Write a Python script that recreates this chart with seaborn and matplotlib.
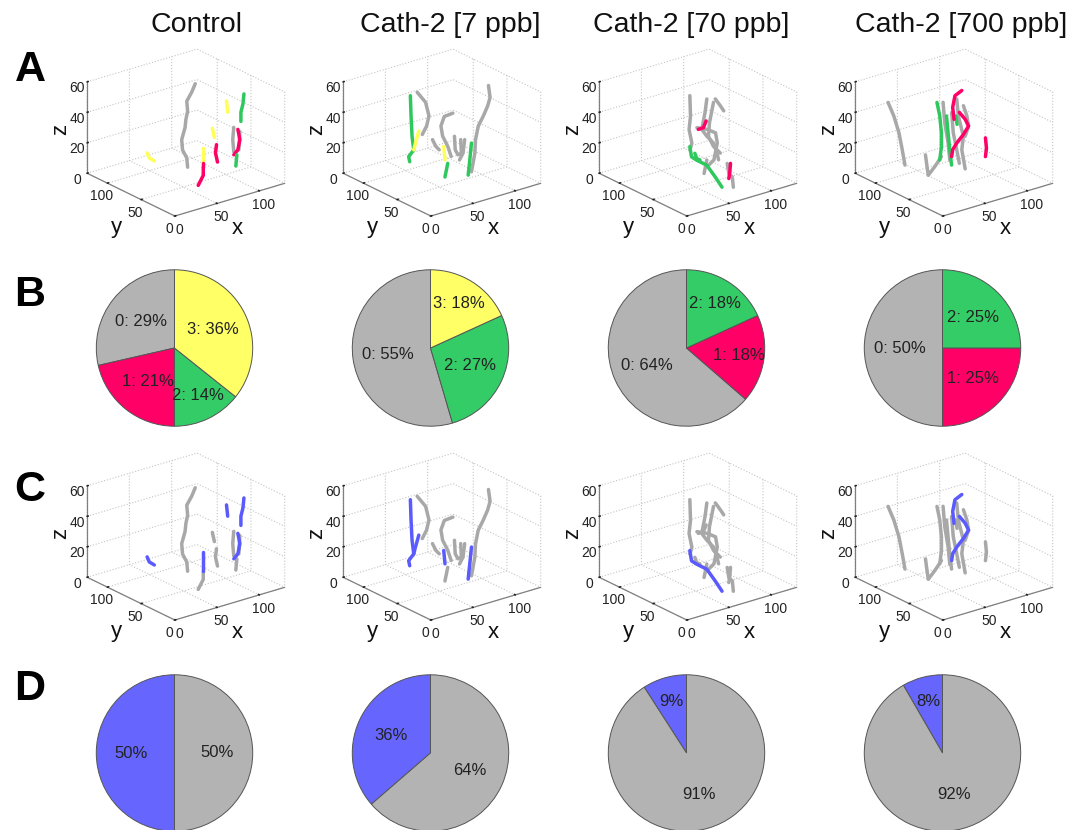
import numpy as np
import matplotlib
matplotlib.use('Agg')
import matplotlib.pyplot as plt
import seaborn as sns

sns.set_theme(style='white')
plt.rcParams['font.family'] = ['Liberation Sans', 'DejaVu Sans']

conditions = ['Control', 'Cath-2 [7 ppb]', 'Cath-2 [70 ppb]', 'Cath-2 [700 ppb]']
title_x = [196, 450, 691, 961]

# state colours: 0 grey, 1 red, 2 green, 3 yellow, 'b' blue
colors = {0: '#b3b3b3', 1: '#ff0066', 2: '#33cc66', 3: '#ffff66', 'b': '#6666ff'}
track_colors = {0: '#a8a8a8', 1: '#ff0066', 2: '#2ec85e', 3: '#ffff55', 'b': '#5a5aff'}

# B pies: number of tracks per state
pie_b_states = [[0, 1, 2, 3], [0, 2, 3], [0, 1, 2], [0, 1, 2]]
pie_b_counts = [[4, 3, 2, 5], [6, 3, 2], [7, 2, 2], [6, 3, 3]]
# D pies: blue / grey tracks
pie_d_counts = [[7, 7], [4, 7], [1, 10], [1, 11]]

# tracks: (state in A, class in C, y, x-list, z-list)
tracks_control = [
    (0, 0, 70, [80, 76, 70, 71, 69, 68, 64, 65, 70, 71], [58.5, 53.8, 48.7, 41.9, 37, 31.8, 24.4, 17.5, 11.4, 5.2]),
    (0, 0, 60, [117.6, 116.4, 117.6], [25.8, 18, 9.8]),
    (0, 0, 60, [124.8, 123.6], [21.9, 10.1]),
    (3, 'b', 110, [55, 57.5, 63.5], [8.6, 4.9, 1.9]),
    (3, 'b', 70, [117, 118.4], [41.1, 33.5]),
    (2, 'b', 40, [113.7, 112.5, 110.1, 110.1], [52.7, 46.3, 41.3, 35.3]),
    (3, 0, 60, [92.3, 94.7], [29.3, 22.9]),
    (3, 'b', 30, [57.6, 57.6], [28.7, 18.7]),
    (1, 'b', 30, [57.6, 57.6], [18.7, 16]),
    (1, 0, 30, [57.6, 57.6, 51.6], [16, 10.7, 5.1]),
    (1, 0, 50, [89.2, 88, 90.4], [21.3, 16.1, 9.7]),
    (1, 'b', 45, [110.5, 112.9, 110.5, 105.7], [28.9, 21.8, 15.5, 13]),
    (2, 0, 40, [105.3, 104.1], [14.1, 7]),
]
tracks_7ppb = [
    (0, 0, 100, [63.7, 73.6, 77.6, 74.8, 69.7], [49.1, 40.9, 31.3, 25.1, 20.4]),
    (0, 0, 80, [89.9, 79.8, 75.8, 77.8, 83.9, 87.9], [35.4, 34.9, 29.3, 22.3, 14.6, 7.3]),
    (0, 0, 80, [65.8, 69.8, 73.8], [22, 16.9, 14]),
    (0, 0, 80, [91.8, 92.7, 95.9, 100, 99.2], [19.9, 10.9, 7.1, 7.5, 16.5]),
    (0, 0, 80, [103.9, 101.9, 97.8], [15.7, 7.2, 3.4]),
    (0, 0, 50, [108.1, 110, 107.2, 102, 96, 92.8, 92, 88], [57, 48.9, 43.8, 38, 32.3, 24, 15.3, 3.7]),
    (2, 'b', 100, [55.6, 56.4, 57.6, 59.6, 53.6, 54.8], [48.2, 34.7, 21.2, 12, 8.5, 5]),
    (3, 'b', 100, [65.6, 61.6, 59.6], [23.3, 16.1, 12]),
    (3, 'b', 80, [79.1, 80.6], [15.3, 6.3]),
    (2, 0, 60, [67.9, 64.6], [10.4, 2]),
    (2, 'b', 45, [84, 82, 80.1], [24.3, 13.5, 3.9]),
]
tracks_70ppb = [
    (0, 0, 80, [67.4, 68.2, 66.5, 69.8, 67.7], [50.6, 37.1, 28.5, 19.1, 15]),
    (0, 0, 80, [87.5, 85.4, 81.5, 87.5, 95.4, 99.5, 101.4], [45.1, 36.6, 26.1, 20.7, 14.9, 7.6, 2.9]),
    (0, 0, 80, [97.5, 103.5, 107.5], [43.5, 38, 34]),
    (0, 0, 90, [103.4, 98.6, 97.4, 103.4, 111.4], [38.1, 25.5, 16.8, 9.2, 3.5]),
    (0, 0, 60, [71.5, 68.3], [12, 3.7]),
    (0, 0, 25, [67.7, 69.7, 73.8, 75], [17.9, 11, 8, 1.1]),
    (0, 0, 80, [75.8, 87.9, 97.8, 99.9, 95.9, 89.9], [28.2, 25.1, 21.2, 14.2, 3.7, 1.4]),
    (1, 0, 80, [77.4, 83.4, 86.7], [26.8, 26.9, 30.8]),
    (1, 0, 40, [83.6, 82.8, 81.6], [12.1, 6.7, 2.5]),
    (2, 0, 20, [25.5, 27.6, 31.5], [32.6, 28.9, 27.2]),
    (2, 'b', 20, [19.5, 21.5, 27.6, 39.6, 49.6, 57.6], [38, 31, 27.8, 22.5, 13.1, 5.1]),
]
tracks_700ppb = [
    (0, 0, 110, [23, 29.8, 35.9, 39.8, 43], [47, 37, 24.9, 13.1, 2.6]),
    (0, 0, 80, [43.3, 44.9, 46.6, 54.2, 62.2], [15.7, 8.8, 1.8, 6.1, 11.5]),
    (0, 0, 90, [72.1, 74.1, 78.1, 80.1], [43.3, 29.6, 15.6, 4.1]),
    (0, 0, 75, [76.3, 78.2, 84.2, 82.3, 85.1, 86.3], [48, 36.6, 22.3, 13.7, 4.4, 0.5]),
    (0, 0, 75, [84.2, 88.3, 90.3, 86.3], [42.3, 34.9, 27.9, 21.9]),
    (0, 0, 75, [70.3, 72.2, 76.3, 79.4], [40.1, 26.5, 14.7, 5.3]),
    (2, 0, 80, [56.9, 60.2, 62.2, 62.2, 60.2], [47.9, 38.5, 27.1, 18.1, 9.6]),
    (2, 0, 70, [60.2, 62.1, 64.1, 66.2], [40.6, 29.2, 17.7, 7.4]),
    (2, 0, 75, [75.1, 76.7], [37.1, 31.3]),
    (1, 'b', 75, [82.3, 74.2, 71.5, 73.1], [52.6, 50.5, 43.3, 35.2]),
    (1, 'b', 75, [79.4, 86.3, 90.3, 84.2, 76.3, 71.5, 70.3], [38.7, 33.1, 27.9, 23.4, 19.1, 15.5, 11.2]),
    (1, 0, 60, [98.3, 99.5, 98.3], [22.1, 15.2, 9.8]),
]
all_tracks = [tracks_control, tracks_7ppb, tracks_70ppb, tracks_700ppb]

W, H = 1081, 830
fig = plt.figure(figsize=(W / 100, H / 100), dpi=100)


def px_axes(cx, cy, size, **kw):
    return fig.add_axes([(cx - size / 2) / W, 1 - (cy + size / 2) / H, size / W, size / H], **kw)


def fig_text(x, y, s, **kw):
    fig.text(x / W, 1 - y / H, s, ha='center', va='center', **kw)


def track_panel(ax, tracks, which):
    ax.set_proj_type('ortho')
    ax.view_init(elev=22.4, azim=-128)
    ax.set_box_aspect((1.41, 1.44, 1.0))
    ax.patch.set_alpha(0)
    key = 0 if which == 'A' else 1
    for t in sorted(tracks, key=lambda t: t[key] != 0):
        st = t[key]
        xs = np.array(t[3])
        zs = np.array(t[4])
        ys = np.full(len(xs), t[2])
        ax.plot(xs, ys, zs, color=track_colors[st], lw=2.5, solid_capstyle='round')
    ax.set_xlim(0, 130)
    ax.set_ylim(0, 130)
    ax.set_zlim(0, 60)
    ax.set_xticks([0, 50, 100])
    ax.set_yticks([0, 50, 100])
    ax.set_zticks([0, 20, 40, 60])
    for axis in (ax.xaxis, ax.yaxis, ax.zaxis):
        axis.set_pane_color((1, 1, 1, 0))
        axis.pane.set_edgecolor('#c4c4c4')
        axis.pane.set_linestyle(':')
        axis.pane.set_linewidth(0.8)
        axis.line.set_color('#808080')
        axis.line.set_linewidth(0.9)
        axis._axinfo['grid'].update(color='#c4c4c4', linestyle=':', linewidth=0.8)
        axis._axinfo['tick'].update(inward_factor=0.0, outward_factor=0.12)
        axis._axinfo['tick']['color'] = '#808080'
    ax.tick_params(labelsize=10, colors='#222222', pad=-4)


def pie_panel(ax, counts, names, fill):
    total = sum(counts)
    wedges, _ = ax.pie(counts, colors=fill, startangle=90, counterclock=True,
                       wedgeprops=dict(edgecolor='#555555', linewidth=0.7))
    for w, c, n in zip(wedges, counts, names):
        frac = c / total
        ang = np.deg2rad((w.theta1 + w.theta2) / 2)
        r = 0.68 if frac < 0.2 else 0.55
        label = f'{round(100 * frac)}%' if n is None else f'{n}: {round(100 * frac)}%'
        ax.text(r * np.cos(ang), r * np.sin(ang), label, ha='center', va='center',
                fontsize=12, color='#222222')
    ax.set_xlim(-1.01, 1.01)
    ax.set_ylim(-1.01, 1.01)
    ax.set_aspect('equal')
    ax.axis('off')


box_size = 216
for c in range(4):
    dx = 256 * c
    for which, dy in (('A', 0), ('C', 404)):
        ax3 = px_axes(183 + dx, 135.5 + dy, box_size, projection='3d')
        track_panel(ax3, all_tracks[c], which)
        fig_text(237 + dx, 228 + dy, 'x', fontsize=16, color='#111111')
        fig_text(116 + dx, 227 + dy, 'y', fontsize=16, color='#111111')
        fig_text(61 + dx, 129 + dy, 'z', fontsize=16, color='#111111', rotation=90)

for c in range(4):
    dx = 256 * c
    axB = px_axes(174.5 + dx, 348, 158)
    st = pie_b_states[c]
    pie_panel(axB, pie_b_counts[c], st, [colors[s] for s in st])
    axD = px_axes(174.5 + dx, 753, 158)
    pie_panel(axD, pie_d_counts[c], [None, None], [colors['b'], colors[0]])
    fig_text(title_x[c], 25, conditions[c], fontsize=20.5, color='#111111')

for letter, y in zip('ABCD', [70, 295, 490, 689]):
    fig_text(30, y, letter, fontsize=31, fontweight='bold', color='black')

fig.savefig('out.png', dpi=100)
